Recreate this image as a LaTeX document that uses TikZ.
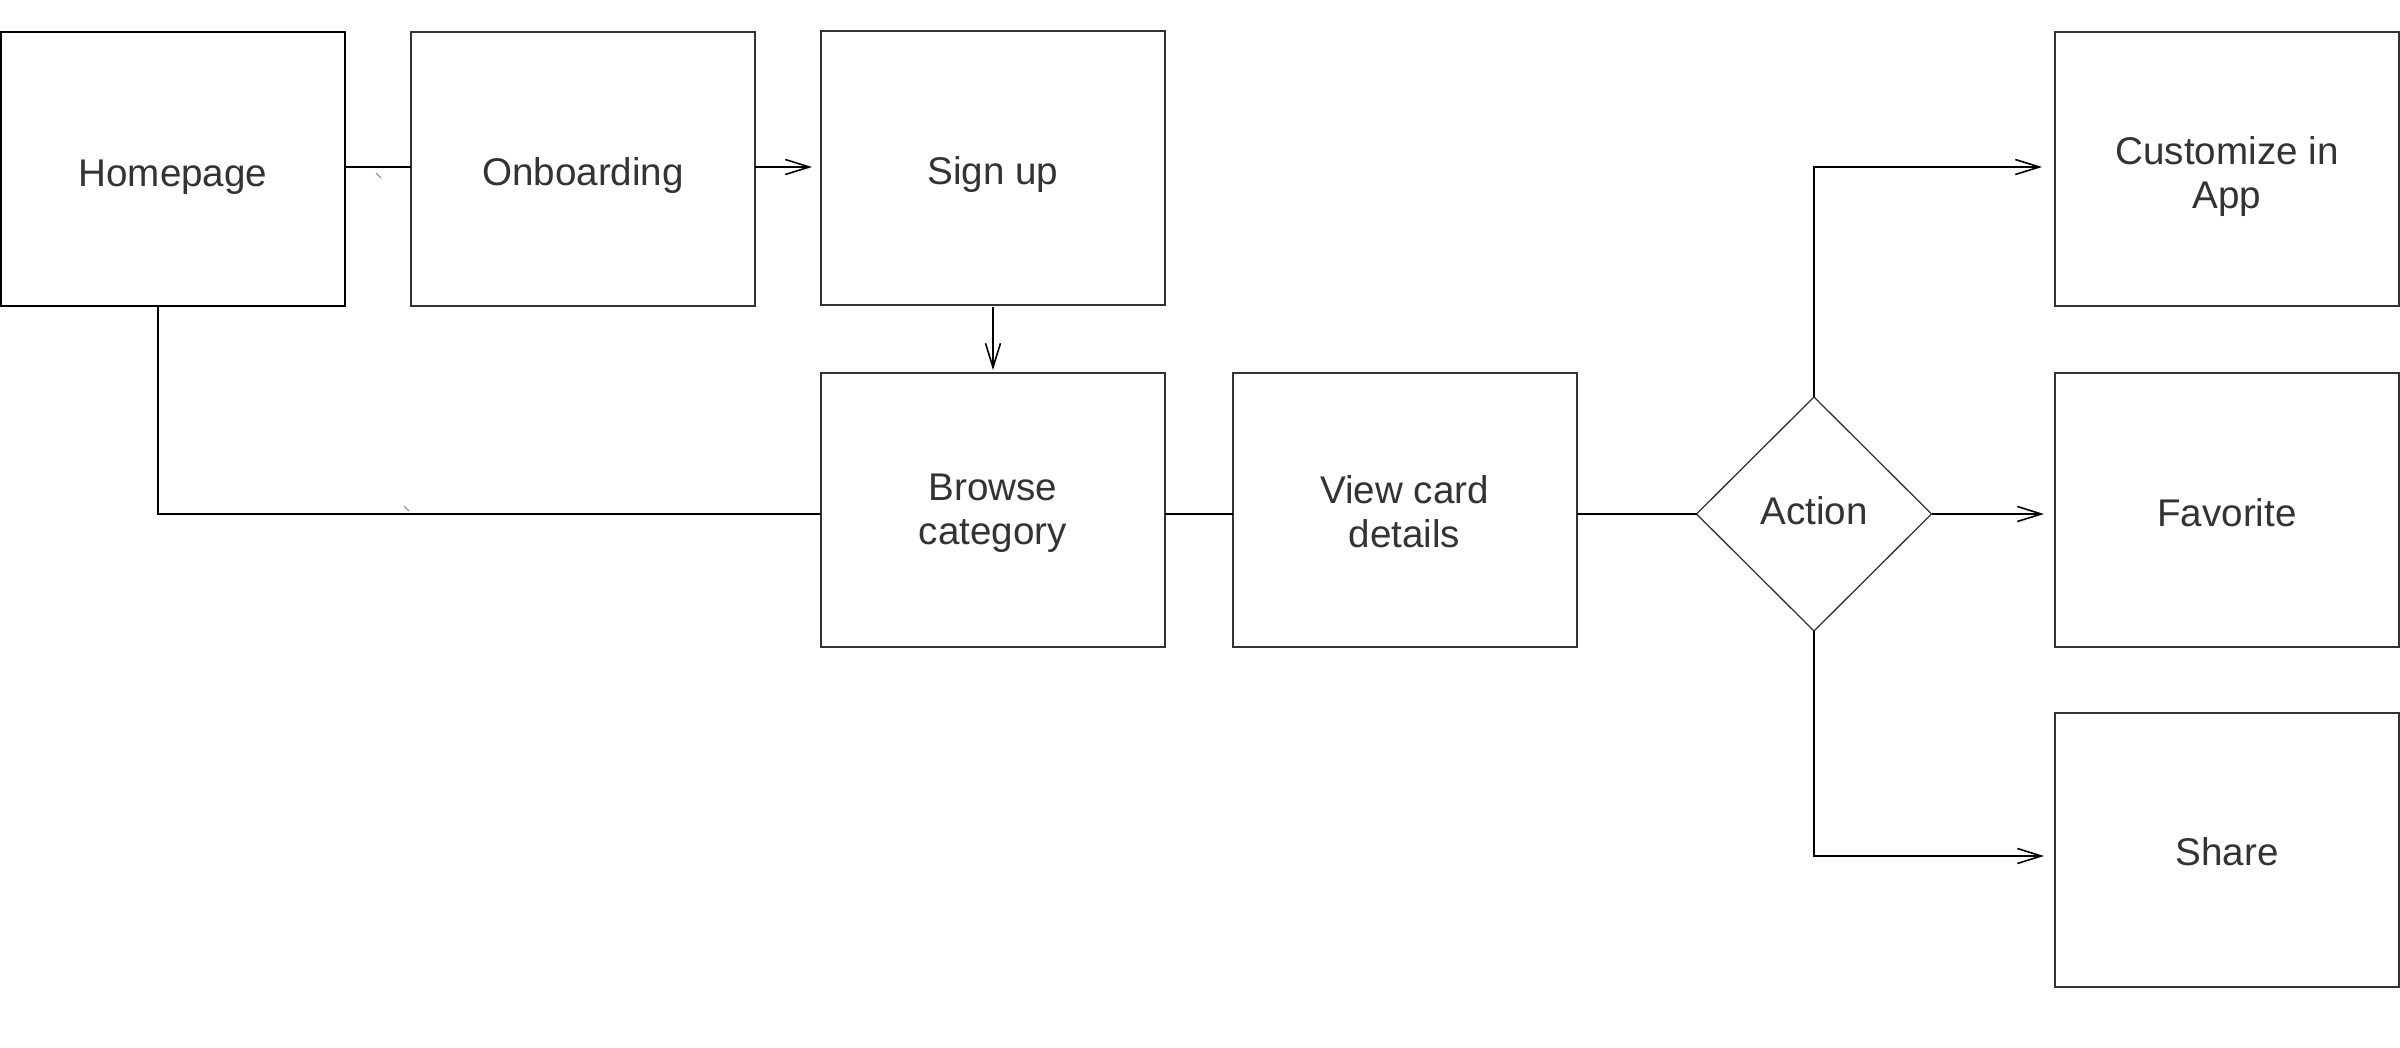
\documentclass[tikz,border=0pt]{standalone}
\usepackage{fontspec}
\newfontfamily\lab{Liberation Sans}
\usetikzlibrary{shapes.geometric,arrows.meta,calc}
\definecolor{ink}{HTML}{333333}
\definecolor{tickgray}{HTML}{9A9A9A}
\newcommand\lo[2]{\raisebox{-#1}[\height][\depth]{#2}}
\begin{document}
\begin{tikzpicture}[x=0.5pt,y=-0.5pt,
  box/.style={draw=ink,line width=1pt,minimum width=172pt,minimum height=137pt,
    inner sep=0pt,outer sep=0pt,align=center,text=ink,
    font=\lab\fontsize{19.3pt}{22pt}\selectfont},
  decision/.style={diamond,draw=ink,line width=0.65pt,minimum width=117.5pt,
    minimum height=117pt,inner sep=0pt,outer sep=0pt,aspect=1,align=center,text=ink,
    font=\lab\fontsize{19.3pt}{22pt}\selectfont},
  conn/.style={draw=black,line width=0.8pt},
  arr/.style={conn,-{Straight Barb[length=12pt,width=7.5pt,line width=0.8pt]}},
  tickmark/.style={draw=tickgray,line width=0.6pt}]
\useasboundingbox (0,0) rectangle (2400,1048);
\fill[white] (0,0) rectangle (2400,1048);

\coordinate (toprow) at (0,167);
\coordinate (midrow) at (0,514);
\coordinate (botrow) at (0,856);
\coordinate (homedown) at (158,0);

\node[box,draw=black] (home) at (173,169.5) {\lo{3.8pt}{Homepage}};
\node[box] (onb) at (583,169.5) {\lo{3.1pt}{Onboarding}};
\node[box] (sign) at (993,168) {\lo{3.1pt}{Sign up}};
\node[box] (browse) at (993,510) {\lo{1.5pt}{Browse}\\\lo{1.5pt}{category}};
\node[box] (view) at (1404.5,510) {\lo{1.1pt}{View card}\\\lo{1.1pt}{details}};
\node[decision] (action) at (1814,514) {\lo{-1.5pt}{Action}};
\node[box] (cust) at (2227,169.5) {\lo{3.4pt}{Customize in}\\\lo{3.4pt}{App}};
\node[box] (fav) at (2227,510) {\lo{1.5pt}{Favorite}};
\node[box] (share) at (2227,850) {\lo{0.8pt}{Share}};

\draw[conn] (home.east |- toprow) -- (onb.west |- toprow);
\draw[arr,shorten >=4.5pt] (onb.east |- toprow) -- (sign.west |- toprow);
\draw[arr,shorten <=1pt,shorten >=1.5pt] (sign.south) -- (browse.north);
\draw[conn] (home.south -| homedown) |- (browse.west |- midrow);
\draw[conn] (browse.east |- midrow) -- (view.west |- midrow);
\draw[conn] (view.east |- midrow) -- (action.west);
\draw[arr,shorten >=6.5pt] (action.north) |- (cust.west |- toprow);
\draw[arr,shorten >=5.5pt] (action.east) -- (fav.west |- midrow);
\draw[arr,shorten >=5.5pt] (action.south) |- (share.west |- botrow);

\draw[tickmark] (376,173) -- (381,178);
\draw[tickmark] (404,506) -- (409,511);
\end{tikzpicture}
\end{document}
